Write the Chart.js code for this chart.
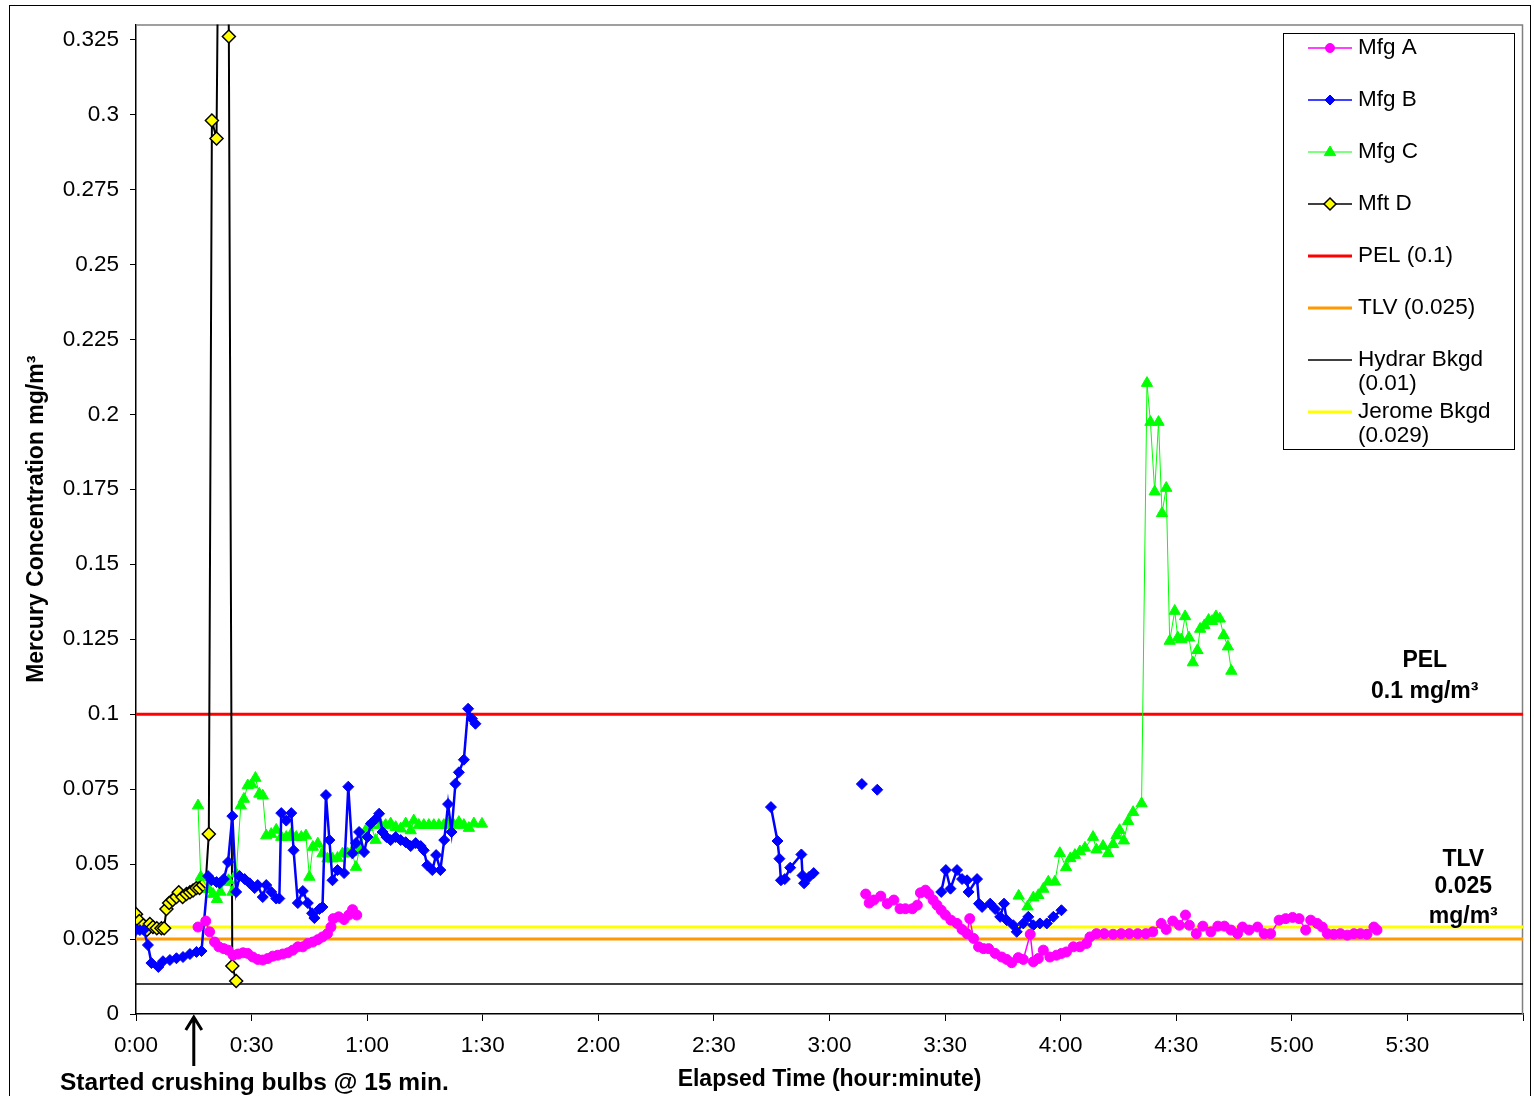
<!DOCTYPE html>
<html>
<head>
<meta charset="utf-8">
<script src="https://cdn.jsdelivr.net/npm/chart.js@4.4.0/dist/chart.umd.min.js"></script>
<style>
  body { margin: 0; background: #fff; }
  canvas { display: block; }
</style>
</head>
<body>
<canvas id="canvas" width="1534" height="1096"></canvas>
<script>
// [elapsed minutes, mg/m3]  -- null value = gap in the record
var mfgA = [
  [16.1,0.029],[18.1,0.031],[19.1,0.0274],[20.4,0.024],[21.5,0.0224],[22.8,0.0218],[23.9,0.0213],
  [25.2,0.0196],[26.5,0.020],[27.8,0.0204],[29,0.0202],[30.3,0.019],[31.6,0.0182],[32.9,0.018],
  [34.2,0.0185],[35.5,0.0193],[36.8,0.0196],[38.1,0.020],[39.4,0.0204],[40.7,0.0213],[42,0.0224],
  [43.3,0.0224],[44.6,0.0235],[45.9,0.024],[47.2,0.0248],[48.4,0.0257],[49.7,0.0268],[50.6,0.029],
  [51.2,0.0318],[52.6,0.0324],[54,0.0315],[55.2,0.033],[56.2,0.0348],[57.3,0.033],
  [120,null],
  [189.4,0.040],[190.3,0.037],[191.5,0.038],[193.3,0.0393],[195,0.0368],[196.7,0.038],[198.3,0.0351],
  [199.7,0.0351],[201.5,0.0351],[202.8,0.0363],[203.6,0.0404],[204.9,0.0413],[205.8,0.040],[206.9,0.038],
  [207.9,0.0363],[209,0.0346],[210.1,0.033],[211.5,0.0313],[213.1,0.0302],[214.4,0.0282],[215.7,0.0268],
  [216.4,0.0318],[217.4,0.0252],[218.7,0.0224],[220,0.0218],[221.3,0.0218],[223,0.0202],[224.7,0.019],
  [226,0.0182],[227.3,0.0171],[229,0.0188],[230.3,0.0182],[232.1,0.0266],[232.9,0.0174],[234.2,0.0185],
  [235.5,0.0213],[237.2,0.019],[238.9,0.0196],[240.2,0.0202],[241.5,0.0207],[243.3,0.0224],[245,0.0224],
  [246.7,0.0235],[247.6,0.0257],[249.3,0.0268],[251.3,0.0268],[253.6,0.0266],[255.7,0.0268],[257.8,0.0268],
  [260,0.0268],[262.1,0.0268],[263.9,0.0274],[266.1,0.0302],[267.4,0.0282],[269.1,0.031],[270.8,0.0296],
  [272.4,0.033],[273.4,0.0296],[275.2,0.0268],[276.9,0.0293],[279,0.0274],[280.8,0.0293],[282.5,0.0293],
  [284.2,0.028],[285.9,0.0268],[287.2,0.029],[288.9,0.028],[291.1,0.029],[292.8,0.0268],[294.5,0.0268],
  [296.7,0.0313],[298.4,0.0318],[300.2,0.0322],[301.9,0.0318],[303.6,0.028],[304.9,0.0313],[306.6,0.0302],
  [307.9,0.029],[309.2,0.0268],[310.9,0.0266],[312.6,0.0268],[314.4,0.0263],[316.1,0.0268],[317.8,0.0268],
  [319.5,0.0266],[321.3,0.029],[322.1,0.028]
];

var mfgB = [
  [0,0.028],[1,0.028],[2,0.028],[3.1,0.023],[4,0.017],[5.8,0.0157],[7,0.0176],[8.8,0.018],[10.5,0.0186],
  [12.2,0.019],[14,0.020],[15.7,0.0207],[17,0.021],[18.7,0.046],[19.6,0.0446],[20.9,0.044],[21.7,0.0436],
  [22.8,0.045],[23.9,0.0507],[25,0.066],[26,0.0407],[26.9,0.046],[28.2,0.045],[29.5,0.0436],[30.8,0.042],
  [31.6,0.043],[32.9,0.039],[33.8,0.043],[35.1,0.0407],[36.4,0.0385],[37.2,0.0385],[37.7,0.067],[39,0.0645],
  [40.3,0.067],[40.9,0.0546],[42,0.037],[43.3,0.041],[44.6,0.037],[45.7,0.0336],[46.3,0.032],[47.6,0.035],
  [48.4,0.0357],[49.3,0.073],[50.2,0.058],[51,0.0446],[52.3,0.048],[54,0.047],[55.1,0.0758],[56.2,0.0536],
  [57.1,0.057],[57.9,0.0607],[59.2,0.054],[60.1,0.059],[61,0.0635],[62.2,0.065],[63.1,0.0668],[64,0.0607],
  [65,0.059],[66.1,0.058],[67.4,0.059],[68.7,0.058],[70,0.0573],[71.3,0.056],[72.6,0.057],[73.9,0.056],
  [74.7,0.0546],[75.6,0.0496],[76.9,0.048],[77.9,0.053],[79,0.048],[80,0.058],[81,0.070],[81.9,0.0607],
  [82.9,0.0768],[83.8,0.0806],[85.1,0.0848],[86.2,0.1018],[87.2,0.0985],[88.1,0.0968],
  [120,null],
  [164.8,0.069],[166.5,0.0577],[167,0.0518],[167.4,0.0446],[168.4,0.045],[169.8,0.0488],[172.7,0.0532],
  [173,0.0462],[173.4,0.0436],[174.7,0.0457],[175.9,0.047],
  [182,null],
  [188.4,0.0767],
  [190,null],
  [192.4,0.0748],
  [200,null],
  [209,0.0407],[210.2,0.048],[211.4,0.0418],[213.1,0.048],[214.4,0.045],[215.7,0.0446],[216.1,0.0407],
  [218.3,0.045],[218.8,0.0368],[219.6,0.0357],[221.7,0.0368],[223,0.035],[224.3,0.0324],[225.3,0.0368],
  [226,0.0313],[227.7,0.0296],[228.6,0.0274],[230.3,0.0302],[231.6,0.0324],[232.9,0.0296],[234.6,0.0302],
  [236.4,0.0302],[238.1,0.0324],[240.2,0.0346]
];

var mfgC = [
  [16.1,0.0695],[16.8,0.0457],[18.9,0.0416],[20,0.040],[21,0.0383],[21.9,0.0407],[23,0.044],[24,0.0446],
  [25,0.0407],[26,0.0468],[27.2,0.0695],[28,0.0717],[29,0.0762],[30,0.0765],[31,0.0787],[32,0.0734],
  [32.9,0.0728],[33.8,0.0595],[35.1,0.060],[36.4,0.0614],[37.7,0.059],[39,0.059],[40.3,0.060],[41.6,0.059],
  [42.9,0.059],[44.1,0.0595],[45,0.0457],[45.9,0.0557],[47.2,0.0568],[48.4,0.0535],[49.7,0.0518],[51,0.0518],
  [52.3,0.052],[53.6,0.0535],[54.9,0.0535],[56,0.054],[57.1,0.049],[57.9,0.0546],[59.2,0.060],[60.1,0.0623],
  [61,0.063],[62.2,0.058],[63.5,0.063],[64.8,0.063],[66.1,0.0635],[67.4,0.0623],[68.7,0.0618],[70,0.0635],
  [71.3,0.0612],[72.1,0.0645],[73.4,0.063],[74.7,0.063],[76,0.063],[77.3,0.063],[78.6,0.063],[79.9,0.063],
  [81.2,0.0635],[82.5,0.063],[83.8,0.064],[85.1,0.063],[86.4,0.062],[87.7,0.0635],[89.8,0.0634],
  [150,null],
  [229.1,0.0394],[231.4,0.0358],[232.9,0.0388],[234.2,0.0396],[235.5,0.0417],[236.8,0.0441],[238.5,0.0441],
  [239.8,0.0536],[241.4,0.0489],[242.5,0.0519],[243.7,0.053],[245,0.0542],[246.3,0.0554],[248.4,0.059],
  [249.3,0.0548],[251,0.056],[252.3,0.0536],[253.6,0.0566],[254.5,0.0596],[255.3,0.0613],[256.4,0.0578],
  [257.5,0.0643],[258.8,0.0673],[261,0.0702],[262.4,0.2104],[263.3,0.1974],[264.4,0.1742],[265.4,0.1974],
  [266.3,0.167],[267.4,0.1754],[268.3,0.1244],[269.6,0.1344],[270.4,0.1255],[271.3,0.1249],[272.3,0.1326],
  [273.3,0.1255],[274.3,0.1172],[275.5,0.1213],[276.2,0.1284],[277.3,0.1296],[278.4,0.1314],[279.3,0.131],
  [280.3,0.1326],[281.3,0.1318],[282.3,0.1263],[283.4,0.1225],[284.3,0.1144]
];

var mftD = [
  [0,0.0333],[0.85,0.031],[1.9,0.0296],[2.8,0.028],[3.6,0.030],[4.4,0.029],[5.4,0.0286],[6.6,0.0286],
  [7.3,0.0286],[7.9,0.035],[8.6,0.037],[9.5,0.038],[10.5,0.039],[11.1,0.0406],[12.1,0.039],[13.1,0.040],
  [14,0.0406],[14.8,0.0412],[15.7,0.042],[16.5,0.042],[17.4,0.043],[18.1,0.044],[18.9,0.060],[19.7,0.298],
  [20.9,0.292],[22.5,0.53],[24.1,0.326],[25,0.016],[26,0.011]
];

// reference levels
var pelLevel = 0.1;
var tlvLevel = 0.025;
var hydrarLevel = 0.01;
var jeromeLevel = 0.029;

var seriesNames = ['Mfg A', 'Mfg B', 'Mfg C', 'Mft D', 'PEL (0.1)', 'TLV (0.025)',
                   'Hydrar Bkgd\n(0.01)', 'Jerome Bkgd\n(0.029)'];

var xTicks = [0, 30, 60, 90, 120, 150, 180, 210, 240, 270, 300, 330, 360];
var yTicks = [0, 0.025, 0.05, 0.075, 0.1, 0.125, 0.15, 0.175, 0.2, 0.225, 0.25, 0.275, 0.3, 0.325];
var xMax = 360;
var yMax = 0.33;

var FONT = '"Liberation Sans", Arial, sans-serif';

function pts(arr) {
    return arr.map(function (p) { return { x: p[0], y: p[1] }; });
}
function flat(v) {
    return [{ x: 0, y: v }, { x: xMax, y: v }];
}
function hhmm(m) {
    var h = Math.floor(m / 60), mm = m % 60;
    return h + ':' + (mm < 10 ? '0' : '') + mm;
}

// little marker painter, used by the legend
function marker(ctx, style, x, y, r, fill, stroke, bw) {
    ctx.save();
    ctx.fillStyle = fill;
    ctx.strokeStyle = stroke;
    ctx.lineWidth = bw;
    ctx.beginPath();
    if (style === 'circle') {
        ctx.arc(x, y, r, 0, Math.PI * 2);
    } else if (style === 'rectRot') {
        ctx.moveTo(x, y - r); ctx.lineTo(x + r, y); ctx.lineTo(x, y + r); ctx.lineTo(x - r, y);
    } else if (style === 'triangle') {
        ctx.moveTo(x, y - r); ctx.lineTo(x + r * 0.95, y + r * 0.6); ctx.lineTo(x - r * 0.95, y + r * 0.6);
    }
    ctx.closePath();
    ctx.fill();
    if (bw > 0) ctx.stroke();
    ctx.restore();
}

var frame = {
    id: 'frame',
    beforeDatasetsDraw: function (chart) {
        var a = chart.chartArea, ctx = chart.ctx;
        ctx.save();
        ctx.strokeStyle = '#808080';
        ctx.lineWidth = 1.5;
        ctx.beginPath();
        ctx.moveTo(a.left, a.top + 0.5);
        ctx.lineTo(a.right - 0.5, a.top + 0.5);
        ctx.lineTo(a.right - 0.5, a.bottom);
        ctx.stroke();
        ctx.restore();
    },
    afterDraw: function (chart) {
        var ctx = chart.ctx;
        ctx.save();
        ctx.strokeStyle = '#000';
        ctx.lineWidth = 1;
        ctx.strokeRect(9.5, 5.5, 1521, 1100);
        ctx.restore();
    }
};

var notes = {
    id: 'notes',
    afterDatasetsDraw: function (chart) {
        var ctx = chart.ctx;
        var xs = chart.scales.x, ys = chart.scales.y;
        ctx.save();
        ctx.fillStyle = '#000';
        ctx.font = 'bold 23px ' + FONT;
        ctx.textAlign = 'center';
        ctx.textBaseline = 'middle';
        var px = xs.getPixelForValue(334.5), py = ys.getPixelForValue(pelLevel);
        ctx.fillText('PEL', px, py - 53);
        ctx.fillText('0.1 mg/m\u00b3', px, py - 22);
        var tx = xs.getPixelForValue(344.5), ty = ys.getPixelForValue(tlvLevel);
        ctx.fillText('TLV', tx, ty - 79);
        ctx.fillText('0.025', tx, ty - 52);
        ctx.fillText('mg/m\u00b3', tx, ty - 22);

        // arrow marking start of crushing
        var ax = xs.getPixelForValue(15), ay = ys.getPixelForValue(0);
        ctx.strokeStyle = '#000';
        ctx.lineWidth = 3;
        ctx.beginPath();
        ctx.moveTo(ax, ay + 52);
        ctx.lineTo(ax, ay + 3);
        ctx.moveTo(ax - 8, ay + 16);
        ctx.lineTo(ax, ay + 3);
        ctx.lineTo(ax + 8, ay + 16);
        ctx.stroke();
        ctx.font = 'bold 24.5px ' + FONT;
        ctx.textAlign = 'left';
        ctx.fillText('Started crushing bulbs @ 15 min.', 60, 1083);
        ctx.restore();
    }
};

var legendBox = {
    id: 'legendBox',
    afterDraw: function (chart) {
        var ctx = chart.ctx;
        var L = 1283, T = 33, W = 231, H = 416;
        ctx.save();
        ctx.fillStyle = '#fff';
        ctx.fillRect(L, T, W, H);
        ctx.strokeStyle = '#000';
        ctx.lineWidth = 1;
        ctx.strokeRect(L + 0.5, T + 0.5, W, H);
        ctx.font = '22.5px ' + FONT;
        ctx.textBaseline = 'middle';
        ctx.textAlign = 'left';
        chart.data.datasets.forEach(function (ds, i) {
            var y = T + 15 + i * 52;
            ctx.strokeStyle = ds.borderColor;
            ctx.lineWidth = ds.legendWidth;
            ctx.beginPath();
            ctx.moveTo(L + 25, y);
            ctx.lineTo(L + 69, y);
            ctx.stroke();
            if (ds.pointRadius > 0) {
                marker(ctx, ds.pointStyle, L + 47, y, ds.pointRadius - 0.5,
                       ds.pointBackgroundColor, ds.pointBorderColor, ds.pointBorderWidth);
            }
            ctx.fillStyle = '#000';
            ds.label.split('\n').forEach(function (line, k) {
                ctx.fillText(line, L + 75, y + k * 24);
            });
        });
        ctx.restore();
    }
};

var config = {
    type: 'line',
    data: {
        datasets: [{
            label: seriesNames[0],
            data: pts(mfgA),
            borderColor: '#ff00ff',
            borderWidth: 1.5,
            legendWidth: 1.5,
            pointStyle: 'circle',
            pointRadius: 5,
            pointBackgroundColor: '#ff00ff',
            pointBorderColor: '#ff00ff',
            pointBorderWidth: 1
        }, {
            label: seriesNames[1],
            data: pts(mfgB),
            borderColor: '#0000ff',
            borderWidth: 2.5,
            legendWidth: 1.5,
            pointStyle: 'rectRot',
            pointRadius: 5.5,
            pointBackgroundColor: '#0000ff',
            pointBorderColor: '#0000ff',
            pointBorderWidth: 1
        }, {
            label: seriesNames[2],
            data: pts(mfgC),
            borderColor: '#00ff00',
            borderWidth: 1,
            legendWidth: 1,
            pointStyle: 'triangle',
            pointRadius: 6.5,
            pointBackgroundColor: '#00ff00',
            pointBorderColor: '#00ff00',
            pointBorderWidth: 1
        }, {
            label: seriesNames[3],
            data: pts(mftD),
            borderColor: '#000000',
            borderWidth: 2,
            legendWidth: 1.5,
            pointStyle: 'rectRot',
            pointRadius: 6.5,
            pointBackgroundColor: '#ffff00',
            pointBorderColor: '#000000',
            pointBorderWidth: 1.5
        }, {
            label: seriesNames[4],
            data: flat(pelLevel),
            borderColor: '#ff0000',
            borderWidth: 3,
            legendWidth: 3,
            pointRadius: 0
        }, {
            label: seriesNames[5],
            data: flat(tlvLevel),
            borderColor: '#ff9900',
            borderWidth: 3,
            legendWidth: 3,
            pointRadius: 0
        }, {
            label: seriesNames[6],
            data: flat(hydrarLevel),
            borderColor: '#000000',
            borderWidth: 1.5,
            legendWidth: 1.5,
            pointRadius: 0
        }, {
            label: seriesNames[7],
            data: flat(jeromeLevel),
            borderColor: '#ffff00',
            borderWidth: 3,
            legendWidth: 3,
            pointRadius: 0
        }]
    },
    options: {
        responsive: false,
        animation: false,
        devicePixelRatio: 1,
        spanGaps: false,
        layout: { padding: { left: 0, right: 10, top: 22, bottom: 0 } },
        elements: { line: { tension: 0 } },
        plugins: {
            legend: { display: false },
            tooltip: { enabled: false }
        },
        scales: {
            x: {
                type: 'linear',
                min: 0,
                max: xMax,
                afterFit: function (s) { s.height = 82; },
                afterBuildTicks: function (s) { s.ticks = xTicks.map(function (v) { return { value: v }; }); },
                grid: { display: true, drawOnChartArea: false, drawTicks: true, tickLength: 7, color: '#000' },
                border: { display: true, color: '#000', width: 1.5 },
                ticks: {
                    color: '#000',
                    padding: 11,
                    maxRotation: 0,
                    font: { size: 22.5 },
                    callback: function (v) { return v === xMax ? '' : hhmm(v); }
                },
                title: {
                    display: true,
                    text: 'Elapsed Time (hour:minute)',
                    color: '#000',
                    font: { size: 23, weight: 'bold' },
                    padding: { top: 0, bottom: 3 }
                }
            },
            y: {
                min: 0,
                max: yMax,
                afterFit: function (s) { s.width = 136; },
                afterBuildTicks: function (s) { s.ticks = yTicks.map(function (v) { return { value: v }; }); },
                grid: { display: true, drawOnChartArea: false, drawTicks: true, tickLength: 6, color: '#000' },
                border: { display: true, color: '#000', width: 1.5 },
                ticks: {
                    color: '#000',
                    padding: 11,
                    font: { size: 22.5 },
                    callback: function (v) { return String(+v.toFixed(3)); }
                },
                title: {
                    display: true,
                    text: 'Mercury Concentration mg/m\u00b3',
                    color: '#000',
                    font: { size: 23, weight: 'bold' },
                    padding: { top: 23, bottom: 0 }
                }
            }
        }
    },
    plugins: [frame, notes, legendBox]
};

Chart.defaults.font.family = FONT;
Chart.defaults.color = '#000';

var ctx = document.getElementById('canvas').getContext('2d');
var chart = new Chart(ctx, config);
</script>
</body>
</html>
